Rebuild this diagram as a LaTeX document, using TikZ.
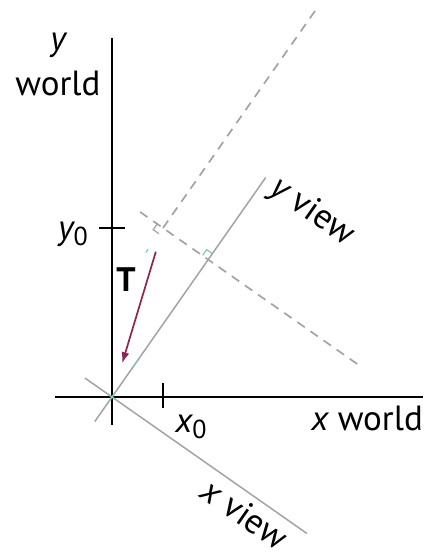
\documentclass[tikz,border=0pt]{standalone}
\usepackage{fontspec}
\setmainfont{PT Sans}
\usepackage{xcolor}
\usetikzlibrary{arrows.meta,calc}
\definecolor{viewgray}{HTML}{A3A3A3}
\definecolor{markteal}{HTML}{7FCBB4}
\definecolor{tred}{HTML}{8E2452}
\tikzset{
  axis/.style={line width=1.3pt, black},
  viewaxis/.style={line width=1.5pt, viewgray},
  oldaxis/.style={line width=1.7pt, viewgray, dash pattern=on 9pt off 7pt},
  rmark/.style={line width=1.2pt, markteal},
  lbl/.style={font=\fontsize{35}{40}\selectfont, inner sep=0pt},
  vec/.style={-{Latex[length=11pt,width=8pt]}, line width=1.7pt, tred}
}

\begin{document}
\begin{tikzpicture}[x=1pt,y=1pt]
  \useasboundingbox (-112,-157) rectangle (311,397);
  \coordinate (O) at (0,0);
  \coordinate (P) at (51,169);
  % world axes
  \draw[axis] (-57,0) -- (311,0);
  \draw[axis] (0,-28) -- (0,359);
  \draw[axis] (51,14) -- (51,-11);
  \draw[axis] (-13,169) -- (13,169);
  % view frame at the origin
  \begin{scope}[shift={(O)}, rotate=-35]
    \draw[viewaxis] (-33,0) -- (238,0);
    \draw[viewaxis] (0,-30) -- (0,268);
    \draw[rmark] (-6,0) -- (6,0);
    \draw[rmark] (0,-6) -- (0,6);
    \draw[rmark] (0,38) -- (0,46);
    \coordinate (F) at (0,168);
  \end{scope}
  % view frame at (x0,y0)
  \begin{scope}[shift={(P)}, rotate=-35]
    \draw[oldaxis] (-28,0) -- (243,0);
    \draw[oldaxis] (0,0) -- (0,270);
    \draw[line width=1.2pt, viewgray] (-7,0) -- (-7,-7) -- (0,-7);
    \draw[rmark] (0,-30) -- (0,-26);
  \end{scope}
  \begin{scope}[shift={(F)}, rotate=-35]
    \draw[rmark] (-7,0) -- (-7,7) -- (0,7);
  \end{scope}
  % translation
  \draw[vec] ($(P)!0.14!(O)$) -- ($(P)!0.8!(O)$);
  \node[lbl, font=\fontsize{34}{40}\selectfont\bfseries] (T) at (14,117) {T};
  % labels
  \node[lbl] (ylab) at (-54,352) {\itshape y};
  \node[lbl] (ywld) at (-54,314) {world};
  \node[lbl] (y0) at (-39,163) {{\itshape y}\raisebox{-0.35ex}{\fontsize{26}{26}\selectfont 0}};
  \node[lbl] (x0) at (79,-30) {{\itshape x}\raisebox{-0.35ex}{\fontsize{26}{26}\selectfont 0}};
  \node[lbl, anchor=east] (xwld) at (311,-21) {{\itshape x} world};
  \node[lbl, rotate=-35] (yview) at (200,185) {{\itshape y} view};
  \node[lbl, rotate=-35] (xview) at (133,-117) {{\itshape x} view};
\end{tikzpicture}
\end{document}
